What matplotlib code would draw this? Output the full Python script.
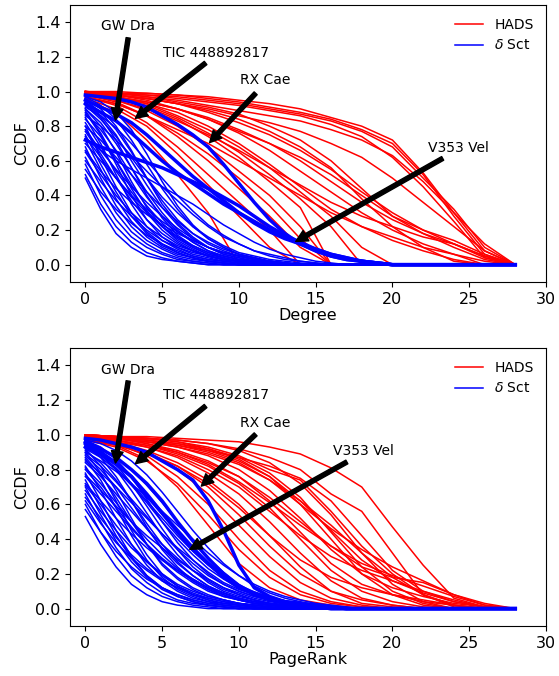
import matplotlib
matplotlib.use("Agg")
import matplotlib.pyplot as plt
import numpy as np

# ---------------- data ----------------
HADS_X = [0, 2, 4, 6, 8, 10, 12, 14, 16, 18, 20, 22, 24, 26, 28]
DSCT_X = list(range(0, 29))

DEG_HADS = [
    [1.00, 1.00, 0.99, 0.98, 0.97, 0.95, 0.93, 0.90, 0.85, 0.80, 0.72, 0.53, 0.30, 0.08, 0.00],
    [1.00, 0.99, 0.99, 0.98, 0.96, 0.94, 0.91, 0.88, 0.84, 0.78, 0.70, 0.52, 0.28, 0.06, 0.00],
    [1.00, 0.99, 0.98, 0.97, 0.95, 0.93, 0.90, 0.87, 0.83, 0.77, 0.68, 0.50, 0.32, 0.10, 0.00],
    [0.99, 0.99, 0.98, 0.96, 0.94, 0.92, 0.89, 0.86, 0.81, 0.74, 0.62, 0.45, 0.25, 0.04, 0.00],
    [1.00, 0.99, 0.97, 0.95, 0.92, 0.89, 0.86, 0.83, 0.78, 0.72, 0.63, 0.48, 0.30, 0.12, 0.00],
    [0.99, 0.98, 0.96, 0.93, 0.90, 0.86, 0.82, 0.77, 0.70, 0.62, 0.50, 0.36, 0.22, 0.08, 0.00],
    [1.00, 0.98, 0.96, 0.93, 0.88, 0.82, 0.75, 0.66, 0.55, 0.42, 0.30, 0.20, 0.12, 0.05, 0.00],
    [0.99, 0.97, 0.94, 0.90, 0.85, 0.78, 0.70, 0.60, 0.48, 0.36, 0.26, 0.18, 0.12, 0.04, 0.00],
    [1.00, 0.98, 0.95, 0.90, 0.84, 0.76, 0.66, 0.54, 0.42, 0.30, 0.20, 0.12, 0.06, 0.00, 0.00],
    [0.99, 0.97, 0.93, 0.88, 0.80, 0.70, 0.58, 0.45, 0.32, 0.22, 0.14, 0.08, 0.03, 0.00, 0.00],
    [1.00, 0.97, 0.93, 0.86, 0.78, 0.68, 0.56, 0.42, 0.28, 0.10, 0.00],
    [0.98, 0.96, 0.92, 0.85, 0.76, 0.65, 0.52, 0.38, 0.22, 0.00],
    [0.99, 0.96, 0.91, 0.84, 0.74, 0.62, 0.48, 0.33, 0.00],
    [0.98, 0.95, 0.89, 0.80, 0.68, 0.54, 0.40, 0.22, 0.00],
    [0.97, 0.93, 0.86, 0.76, 0.64, 0.50, 0.34, 0.15, 0.00],
    [0.98, 0.94, 0.86, 0.74, 0.60, 0.44, 0.28, 0.10, 0.00],
    [0.97, 0.92, 0.82, 0.68, 0.52, 0.36, 0.20, 0.00],
    [0.96, 0.90, 0.80, 0.64, 0.46, 0.28, 0.10, 0.00],
    [0.95, 0.88, 0.72, 0.52, 0.30, 0.00],
    [0.97, 0.93, 0.86, 0.78, 0.70, 0.60, 0.50, 0.40, 0.30, 0.22, 0.16, 0.10, 0.06, 0.02, 0.00],
    [0.98, 0.95, 0.90, 0.83, 0.75, 0.66, 0.56, 0.46, 0.36, 0.28, 0.22, 0.16, 0.12, 0.05, 0.00],
    [0.99, 0.97, 0.94, 0.90, 0.84, 0.77, 0.70, 0.62, 0.52, 0.40, 0.28, 0.20, 0.14, 0.06, 0.00],
    [1.00, 0.99, 0.97, 0.94, 0.91, 0.87, 0.80, 0.72, 0.60, 0.44, 0.28, 0.18, 0.10, 0.03, 0.00],
    [0.99, 0.98, 0.96, 0.93, 0.89, 0.84, 0.77, 0.68, 0.56, 0.38, 0.22, 0.10, 0.02, 0.00],
]

DEG_DSCT = [
    [0.97, 0.92, 0.84, 0.72, 0.58, 0.44, 0.32, 0.22, 0.15, 0.10, 0.06, 0.04, 0.02, 0.01, 0],
    [0.95, 0.88, 0.78, 0.65, 0.50, 0.37, 0.26, 0.18, 0.12, 0.08, 0.05, 0.03, 0.02, 0.01, 0],
    [0.93, 0.85, 0.72, 0.56, 0.40, 0.27, 0.17, 0.11, 0.07, 0.04, 0.02, 0.01, 0],
    [0.90, 0.80, 0.65, 0.48, 0.33, 0.22, 0.14, 0.09, 0.05, 0.03, 0.02, 0.01, 0],
    [0.88, 0.75, 0.58, 0.40, 0.26, 0.16, 0.10, 0.06, 0.04, 0.02, 0.01, 0],
    [0.85, 0.70, 0.52, 0.35, 0.22, 0.14, 0.09, 0.05, 0.03, 0.02, 0.01, 0],
    [0.82, 0.68, 0.54, 0.42, 0.31, 0.22, 0.15, 0.10, 0.06, 0.04, 0.02, 0.01, 0],
    [0.80, 0.62, 0.45, 0.30, 0.19, 0.12, 0.07, 0.04, 0.02, 0.01, 0],
    [0.78, 0.66, 0.55, 0.45, 0.36, 0.28, 0.21, 0.15, 0.10, 0.07, 0.05, 0.03, 0.02, 0.01, 0],
    [0.75, 0.58, 0.42, 0.28, 0.18, 0.11, 0.07, 0.04, 0.02, 0.01, 0],
    [0.72, 0.55, 0.38, 0.25, 0.16, 0.10, 0.06, 0.04, 0.02, 0.01, 0],
    [0.70, 0.60, 0.50, 0.40, 0.32, 0.25, 0.19, 0.14, 0.10, 0.07, 0.05, 0.03, 0.02, 0.01, 0],
    [0.68, 0.50, 0.34, 0.22, 0.14, 0.09, 0.05, 0.03, 0.02, 0.01, 0],
    [0.65, 0.52, 0.40, 0.30, 0.22, 0.16, 0.11, 0.08, 0.05, 0.03, 0.02, 0.01, 0],
    [0.62, 0.45, 0.30, 0.19, 0.12, 0.07, 0.04, 0.02, 0.01, 0],
    [0.60, 0.48, 0.37, 0.28, 0.20, 0.14, 0.10, 0.07, 0.05, 0.03, 0.02, 0.01, 0],
    [0.58, 0.40, 0.26, 0.16, 0.10, 0.06, 0.03, 0.02, 0.01, 0],
    [0.55, 0.42, 0.32, 0.24, 0.17, 0.12, 0.08, 0.05, 0.03, 0.02, 0.01, 0],
    [0.52, 0.35, 0.22, 0.13, 0.07, 0.04, 0.02, 0.01, 0],
    [0.50, 0.32, 0.18, 0.10, 0.05, 0.03, 0.02, 0.01, 0],
    [0.96, 0.90, 0.80, 0.66, 0.50, 0.35, 0.24, 0.16, 0.10, 0.06, 0.04, 0.02, 0.01, 0],
    [0.94, 0.86, 0.75, 0.60, 0.46, 0.33, 0.23, 0.15, 0.10, 0.06, 0.04, 0.02, 0.01, 0],
    [0.92, 0.84, 0.74, 0.62, 0.50, 0.39, 0.30, 0.22, 0.16, 0.11, 0.07, 0.05, 0.03, 0.02, 0.01, 0],
    [0.90, 0.82, 0.70, 0.56, 0.42, 0.30, 0.20, 0.13, 0.08, 0.05, 0.03, 0.02, 0.01, 0],
    [0.87, 0.78, 0.66, 0.52, 0.39, 0.28, 0.19, 0.13, 0.08, 0.05, 0.03, 0.02, 0.01, 0],
    [0.84, 0.74, 0.60, 0.46, 0.34, 0.24, 0.16, 0.10, 0.06, 0.04, 0.02, 0.01, 0],
    [0.80, 0.72, 0.62, 0.52, 0.42, 0.33, 0.25, 0.18, 0.13, 0.09, 0.06, 0.04, 0.02, 0.01, 0],
    [0.77, 0.64, 0.50, 0.37, 0.26, 0.18, 0.12, 0.08, 0.05, 0.03, 0.02, 0.01, 0],
    [0.74, 0.62, 0.50, 0.39, 0.30, 0.22, 0.16, 0.11, 0.07, 0.05, 0.03, 0.02, 0.01, 0],
    [0.86, 0.80, 0.72, 0.63, 0.54, 0.45, 0.37, 0.29, 0.22, 0.16, 0.12, 0.08, 0.06, 0.04, 0.02, 0.01, 0],
    [0.91, 0.86, 0.79, 0.70, 0.60, 0.50, 0.40, 0.31, 0.23, 0.17, 0.12, 0.08, 0.05, 0.03, 0.02, 0.01, 0],
    [0.73, 0.66, 0.60, 0.55, 0.50, 0.45, 0.40, 0.35, 0.29, 0.23, 0.18, 0.13, 0.09, 0.06, 0.04, 0.02, 0.01, 0],
    [0.66, 0.54, 0.44, 0.36, 0.29, 0.23, 0.18, 0.14, 0.10, 0.07, 0.05, 0.03, 0.02, 0.01, 0],
    [0.97, 0.94, 0.88, 0.78, 0.64, 0.48, 0.34, 0.23, 0.15, 0.10, 0.06, 0.04, 0.02, 0.01, 0],
    [0.89, 0.76, 0.60, 0.44, 0.30, 0.20, 0.13, 0.08, 0.05, 0.03, 0.02, 0.01, 0],
]

# highlighted stars (thick blue)
DEG_GW_DRA = [0.93, 0.88, 0.83, 0.76, 0.68, 0.60, 0.53, 0.47, 0.41, 0.35, 0.30, 0.25, 0.20, 0.16, 0.12, 0.09, 0.06, 0.04, 0.02, 0.01, 0]
DEG_TIC = [0.95, 0.91, 0.87, 0.82, 0.75, 0.67, 0.59, 0.51, 0.44, 0.37, 0.30, 0.24, 0.19, 0.15, 0.12, 0.08, 0.05, 0.03, 0.02, 0.01, 0]
DEG_RX_CAE = [0.98, 0.97, 0.96, 0.94, 0.91, 0.86, 0.81, 0.75, 0.68, 0.58, 0.47, 0.36, 0.26, 0.18, 0.12, 0.08, 0.05, 0.03, 0.02, 0.01, 0]
DEG_V353 = [0.72, 0.68, 0.65, 0.62, 0.59, 0.56, 0.52, 0.48, 0.44, 0.39, 0.34, 0.28, 0.22, 0.17, 0.13, 0.09, 0.06, 0.04, 0.02, 0.01, 0]

PR_HADS = [
    [1.00, 0.99, 0.99, 0.98, 0.97, 0.96, 0.93, 0.89, 0.81, 0.70, 0.47, 0.25, 0.06, 0.01, 0.00],
    [1.00, 0.99, 0.98, 0.97, 0.95, 0.92, 0.87, 0.80, 0.66, 0.56, 0.32, 0.08, 0.01, 0.00, 0.00],
    [1.00, 0.99, 0.97, 0.95, 0.91, 0.85, 0.76, 0.62, 0.45, 0.28, 0.16, 0.09, 0.04, 0.01, 0.00],
    [0.99, 0.98, 0.96, 0.93, 0.88, 0.80, 0.68, 0.52, 0.34, 0.20, 0.12, 0.07, 0.03, 0.01, 0.00],
    [1.00, 0.98, 0.95, 0.91, 0.85, 0.76, 0.62, 0.44, 0.26, 0.14, 0.08, 0.04, 0.02, 0.00, 0.00],
    [0.99, 0.97, 0.94, 0.89, 0.82, 0.72, 0.58, 0.40, 0.22, 0.10, 0.04, 0.01, 0.00],
    [0.99, 0.97, 0.93, 0.87, 0.78, 0.66, 0.50, 0.32, 0.16, 0.06, 0.02, 0.00],
    [0.98, 0.96, 0.91, 0.84, 0.74, 0.60, 0.42, 0.24, 0.10, 0.03, 0.01, 0.00],
    [0.99, 0.96, 0.90, 0.80, 0.66, 0.48, 0.30, 0.15, 0.06, 0.02, 0.00],
    [0.98, 0.95, 0.88, 0.76, 0.60, 0.40, 0.22, 0.10, 0.04, 0.01, 0.00],
    [0.97, 0.93, 0.85, 0.72, 0.54, 0.34, 0.18, 0.08, 0.03, 0.01, 0.00],
    [0.98, 0.94, 0.86, 0.70, 0.48, 0.26, 0.12, 0.05, 0.02, 0.00],
    [1.00, 0.99, 0.97, 0.94, 0.90, 0.84, 0.74, 0.60, 0.46, 0.34, 0.24, 0.16, 0.08, 0.02, 0.00],
    [0.99, 0.98, 0.95, 0.90, 0.83, 0.73, 0.61, 0.48, 0.36, 0.26, 0.19, 0.13, 0.07, 0.02, 0.00],
    [1.00, 0.99, 0.98, 0.96, 0.93, 0.88, 0.80, 0.74, 0.56, 0.36, 0.20, 0.08, 0.02, 0.00],
    [0.99, 0.98, 0.96, 0.93, 0.89, 0.83, 0.74, 0.62, 0.48, 0.32, 0.18, 0.08, 0.02, 0.00],
    [1.00, 0.99, 0.98, 0.96, 0.92, 0.86, 0.76, 0.60, 0.40, 0.20, 0.08, 0.02, 0.00],
    [0.99, 0.98, 0.97, 0.95, 0.92, 0.87, 0.78, 0.64, 0.44, 0.24, 0.10, 0.03, 0.00],
    [1.00, 0.99, 0.98, 0.97, 0.95, 0.91, 0.84, 0.72, 0.54, 0.32, 0.14, 0.04, 0.00],
    [0.98, 0.96, 0.93, 0.88, 0.80, 0.70, 0.56, 0.42, 0.30, 0.22, 0.16, 0.10, 0.05, 0.01, 0.00],
    [0.97, 0.94, 0.89, 0.82, 0.72, 0.58, 0.42, 0.28, 0.18, 0.12, 0.08, 0.05, 0.02, 0.00],
    [0.99, 0.97, 0.94, 0.90, 0.84, 0.76, 0.64, 0.50, 0.36, 0.24, 0.18, 0.15, 0.08, 0.03, 0.00],
    [0.98, 0.95, 0.90, 0.82, 0.70, 0.54, 0.36, 0.20, 0.10, 0.05, 0.02, 0.00],
    [0.99, 0.98, 0.96, 0.94, 0.91, 0.87, 0.82, 0.75, 0.62, 0.42, 0.22, 0.10, 0.04, 0.01, 0.00],
]

PR_DSCT = [
    [0.97, 0.93, 0.86, 0.76, 0.63, 0.50, 0.38, 0.28, 0.20, 0.14, 0.10, 0.07, 0.05, 0.03, 0.02, 0.01, 0],
    [0.95, 0.89, 0.80, 0.68, 0.55, 0.42, 0.31, 0.22, 0.15, 0.10, 0.07, 0.05, 0.03, 0.02, 0.01, 0],
    [0.94, 0.87, 0.76, 0.62, 0.47, 0.34, 0.24, 0.16, 0.11, 0.07, 0.05, 0.03, 0.02, 0.01, 0],
    [0.92, 0.82, 0.68, 0.52, 0.37, 0.25, 0.17, 0.11, 0.07, 0.05, 0.03, 0.02, 0.01, 0],
    [0.90, 0.78, 0.62, 0.45, 0.31, 0.20, 0.13, 0.08, 0.05, 0.03, 0.02, 0.01, 0],
    [0.88, 0.80, 0.70, 0.58, 0.46, 0.35, 0.26, 0.19, 0.13, 0.09, 0.06, 0.04, 0.03, 0.02, 0.01, 0],
    [0.86, 0.74, 0.58, 0.42, 0.28, 0.18, 0.11, 0.07, 0.04, 0.03, 0.02, 0.01, 0],
    [0.84, 0.76, 0.66, 0.56, 0.46, 0.37, 0.29, 0.22, 0.16, 0.11, 0.08, 0.05, 0.03, 0.02, 0.01, 0],
    [0.82, 0.68, 0.52, 0.37, 0.25, 0.16, 0.10, 0.06, 0.04, 0.02, 0.01, 0],
    [0.80, 0.70, 0.58, 0.47, 0.37, 0.28, 0.21, 0.15, 0.10, 0.07, 0.05, 0.03, 0.02, 0.01, 0],
    [0.78, 0.62, 0.45, 0.30, 0.19, 0.12, 0.07, 0.04, 0.02, 0.01, 0],
    [0.76, 0.66, 0.56, 0.46, 0.37, 0.29, 0.22, 0.16, 0.11, 0.08, 0.05, 0.03, 0.02, 0.01, 0],
    [0.74, 0.58, 0.42, 0.29, 0.19, 0.12, 0.08, 0.05, 0.03, 0.02, 0.01, 0],
    [0.72, 0.62, 0.52, 0.43, 0.35, 0.28, 0.22, 0.17, 0.12, 0.09, 0.06, 0.04, 0.03, 0.02, 0.01, 0],
    [0.70, 0.54, 0.39, 0.27, 0.18, 0.11, 0.07, 0.04, 0.02, 0.01, 0],
    [0.68, 0.56, 0.45, 0.35, 0.27, 0.20, 0.14, 0.10, 0.07, 0.05, 0.03, 0.02, 0.01, 0],
    [0.66, 0.50, 0.35, 0.23, 0.15, 0.09, 0.05, 0.03, 0.02, 0.01, 0],
    [0.64, 0.52, 0.41, 0.31, 0.23, 0.17, 0.12, 0.08, 0.05, 0.03, 0.02, 0.01, 0],
    [0.60, 0.44, 0.30, 0.19, 0.12, 0.07, 0.04, 0.02, 0.01, 0],
    [0.57, 0.44, 0.33, 0.24, 0.17, 0.12, 0.08, 0.05, 0.03, 0.02, 0.01, 0],
    [0.53, 0.37, 0.24, 0.14, 0.08, 0.04, 0.02, 0.01, 0],
    [0.96, 0.91, 0.83, 0.72, 0.59, 0.46, 0.34, 0.24, 0.17, 0.12, 0.08, 0.05, 0.03, 0.02, 0.01, 0],
    [0.93, 0.88, 0.81, 0.72, 0.62, 0.52, 0.42, 0.33, 0.25, 0.18, 0.13, 0.09, 0.06, 0.04, 0.02, 0.01, 0],
    [0.91, 0.84, 0.74, 0.62, 0.49, 0.37, 0.27, 0.19, 0.13, 0.09, 0.06, 0.04, 0.02, 0.01, 0],
    [0.89, 0.82, 0.73, 0.63, 0.53, 0.43, 0.34, 0.26, 0.19, 0.14, 0.10, 0.07, 0.05, 0.03, 0.02, 0.01, 0],
    [0.87, 0.77, 0.64, 0.50, 0.37, 0.26, 0.18, 0.12, 0.08, 0.05, 0.03, 0.02, 0.01, 0],
    [0.85, 0.78, 0.70, 0.61, 0.52, 0.43, 0.35, 0.28, 0.21, 0.15, 0.11, 0.08, 0.05, 0.03, 0.02, 0.01, 0],
    [0.81, 0.72, 0.61, 0.50, 0.40, 0.31, 0.23, 0.17, 0.12, 0.08, 0.05, 0.03, 0.02, 0.01, 0],
    [0.77, 0.68, 0.59, 0.50, 0.42, 0.35, 0.28, 0.22, 0.17, 0.12, 0.09, 0.06, 0.04, 0.03, 0.02, 0.01, 0],
    [0.95, 0.92, 0.87, 0.80, 0.71, 0.61, 0.50, 0.39, 0.29, 0.21, 0.14, 0.09, 0.06, 0.04, 0.02, 0.01, 0],
    [0.92, 0.87, 0.80, 0.71, 0.61, 0.50, 0.40, 0.31, 0.23, 0.17, 0.12, 0.08, 0.05, 0.03, 0.02, 0.01, 0],
    [0.71, 0.60, 0.48, 0.37, 0.27, 0.19, 0.13, 0.09, 0.06, 0.04, 0.02, 0.01, 0],
    [0.62, 0.49, 0.38, 0.29, 0.22, 0.16, 0.12, 0.08, 0.06, 0.04, 0.03, 0.02, 0.01, 0],
    [0.97, 0.95, 0.91, 0.85, 0.77, 0.67, 0.56, 0.45, 0.35, 0.26, 0.19, 0.13, 0.09, 0.06, 0.04, 0.02, 0.01, 0],
    [0.90, 0.85, 0.79, 0.72, 0.64, 0.56, 0.48, 0.40, 0.32, 0.25, 0.19, 0.14, 0.10, 0.07, 0.05, 0.03, 0.02, 0.01, 0],
]

PR_GW_DRA = [0.95, 0.90, 0.84, 0.76, 0.66, 0.55, 0.44, 0.34, 0.26, 0.19, 0.13, 0.09, 0.06, 0.04, 0.02, 0.01, 0]
PR_TIC = [0.96, 0.92, 0.87, 0.80, 0.72, 0.62, 0.50, 0.39, 0.29, 0.20, 0.13, 0.08, 0.05, 0.03, 0.02, 0.01, 0]
PR_RX_CAE = [0.98, 0.97, 0.95, 0.93, 0.90, 0.85, 0.80, 0.74, 0.62, 0.45, 0.25, 0.12, 0.07, 0.04, 0.03, 0.02, 0.01, 0]
PR_V353 = [0.93, 0.89, 0.83, 0.76, 0.65, 0.55, 0.45, 0.35, 0.26, 0.18, 0.12, 0.09, 0.06, 0.04, 0.03, 0.02, 0.01, 0]

STAR_NAMES = ["GW Dra", "TIC 448892817", "RX Cae", "V353 Vel"]
# annotation layout (data coords): text centre, arrow tail, arrow tip
DEG_TEXT = [(2.8, 1.377), (8.54, 1.225), (11.7, 1.066), (24.3, 0.676)]
DEG_TAIL = [(2.79, 1.31), (7.83, 1.165), (11.09, 0.99), (23.27, 0.614)]
DEG_TIP = [(1.96, 0.835), (3.26, 0.845), (8.09, 0.705), (13.7, 0.134)]
PR_TEXT = [(2.8, 1.375), (8.54, 1.227), (11.7, 1.068), (18.1, 0.907)]
PR_TAIL = [(2.79, 1.31), (7.83, 1.166), (11.09, 1.003), (17.03, 0.844)]
PR_TIP = [(1.96, 0.838), (3.26, 0.834), (7.55, 0.705), (6.8, 0.341)]


def pad(vals, n):
    v = list(vals)
    return v + [0.0] * (n - len(v))


def draw(ax, hads, dsct, stars, texts, tails, tips, xlabel):
    for i, v in enumerate(hads):
        ax.plot(HADS_X, pad(v, len(HADS_X)),
                color="red", lw=1.1, label="HADS" if i == 0 else None)
    for i, v in enumerate(dsct):
        ax.plot(DSCT_X, pad(v, len(DSCT_X)), color="blue", lw=1.1,
                label=r"$\delta$ Sct" if i == 0 else None)
    for v in stars:
        ax.plot(DSCT_X, pad(v, len(DSCT_X)), color="blue", lw=2.5)
    for name, t, tl, tp in zip(STAR_NAMES, texts, tails, tips):
        ax.annotate("", xy=tp, xytext=tl,
                    arrowprops=dict(facecolor="black", edgecolor="black",
                                    width=3.0, headwidth=8.5, headlength=8.5,
                                    shrink=0.0))
        ax.text(t[0], t[1], name, ha="center", va="center", fontsize=10)
    ax.set_xlim(-1, 30)
    ax.set_ylim(-0.1, 1.5)
    ax.set_xticks([0, 5, 10, 15, 20, 25, 30])
    ax.set_yticks([0.0, 0.2, 0.4, 0.6, 0.8, 1.0, 1.2, 1.4])
    ax.set_xlabel(xlabel, fontsize=11.5, labelpad=1)
    ax.set_ylabel("CCDF", fontsize=11.5)
    ax.tick_params(labelsize=11.5)
    ax.legend(loc="upper right", frameon=False, fontsize=10)


fig = plt.figure(figsize=(5.59, 6.76), dpi=100)
ax1 = fig.add_axes([70 / 559, 1 - 282 / 676, 476 / 559, 277 / 676])
ax2 = fig.add_axes([70 / 559, 1 - 626 / 676, 476 / 559, 278 / 676])
draw(ax1, DEG_HADS, DEG_DSCT, [DEG_GW_DRA, DEG_TIC, DEG_RX_CAE, DEG_V353],
     DEG_TEXT, DEG_TAIL, DEG_TIP, "Degree")
draw(ax2, PR_HADS, PR_DSCT, [PR_GW_DRA, PR_TIC, PR_RX_CAE, PR_V353],
     PR_TEXT, PR_TAIL, PR_TIP, "PageRank")
fig.savefig("out.png", dpi=100)
